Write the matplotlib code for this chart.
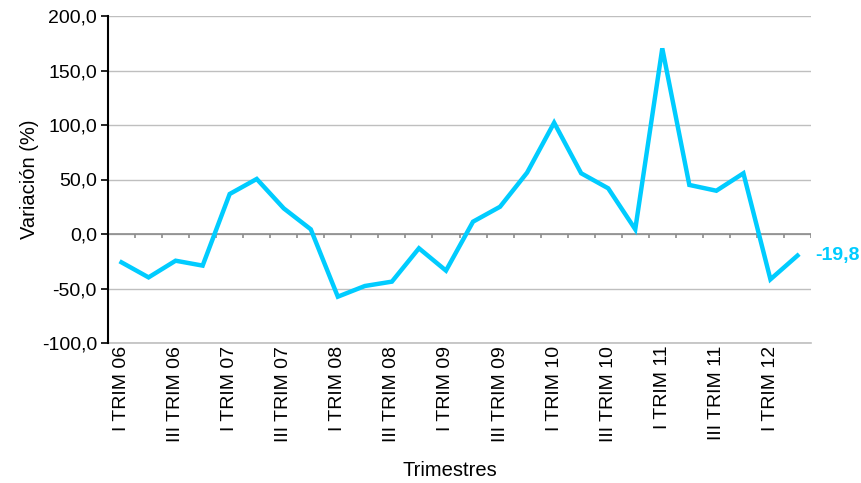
import numpy as np
import matplotlib
matplotlib.use('Agg')
import matplotlib.pyplot as plt
from matplotlib.ticker import FuncFormatter, MultipleLocator

plt.rcParams['font.family'] = ['Liberation Sans', 'DejaVu Sans']

# quarters I TRIM 06 .. II TRIM 12
romans = ['I', 'II', 'III', 'IV']
years = ['06', '07', '08', '09', '10', '11', '12']
quarters = [f'{r} TRIM {y}' for y in years for r in romans][:26]

variacion = [-26.0, -39.8, -24.5, -29.0, 36.7, 50.5, 23.5, 4.3, -57.5, -47.7,
             -43.7, -13.1, -33.6, 11.3, 25.0, 56.3, 102.1, 55.7, 41.9, 4.3,
             170.3, 45.0, 39.7, 55.7, -41.6, -19.8]

line_color = '#00CCFF'
grid_color = '#BFBFBF'

fig = plt.figure(figsize=(8.62, 4.83), dpi=100)
ax = fig.add_axes([108 / 862, 1 - 343 / 483, (811 - 108) / 862, (343 - 16) / 483])

x = np.arange(len(variacion))
ax.plot(x, variacion, color=line_color, lw=3.2, solid_joinstyle='miter', zorder=3)

ax.set_xlim(-0.5, len(variacion) - 0.5)
ax.set_ylim(-100, 200)
ax.yaxis.set_major_locator(MultipleLocator(50))
ax.yaxis.set_major_formatter(FuncFormatter(lambda v, p: f'{v:.1f}'.replace('.', ',')))
ax.grid(axis='y', color=grid_color, lw=1)
ax.set_axisbelow(True)
ax.axhline(-100, color=grid_color, lw=1.2, clip_on=False, zorder=1)

# category axis crossing at zero, with boundary ticks
ax.axhline(0, color='#8C8C8C', lw=1.2, zorder=2)
bounds = np.arange(len(variacion) + 1) - 0.5
ax.vlines(bounds[1:], -4, 0, color='#8C8C8C', lw=1.2, zorder=2)

ax.set_xticks(x[::2])
ax.set_xticklabels(quarters[::2], rotation=90, fontsize=14)
ax.tick_params(axis='x', length=0, pad=2)
ax.tick_params(axis='y', direction='out', length=5, width=1.2, color='black', labelsize=14, pad=3)

for s in ['top', 'right', 'bottom']:
    ax.spines[s].set_visible(False)
ax.spines['left'].set_color('black')
ax.spines['left'].set_linewidth(1.5)

ax.set_ylabel('Variación (%)', fontsize=14.5, labelpad=2)
fig.text(450 / 862, 1 - 470 / 483, 'Trimestres', fontsize=14.5, ha='center', va='center')

ax.annotate(f'{variacion[-1]:.1f}'.replace('.', ','), xy=(x[-1], variacion[-1]),
            xytext=(13, 0), textcoords='offset points', va='center', ha='left',
            color=line_color, fontsize=14, fontweight='bold', annotation_clip=False)

fig.savefig('out.png', dpi=100)
